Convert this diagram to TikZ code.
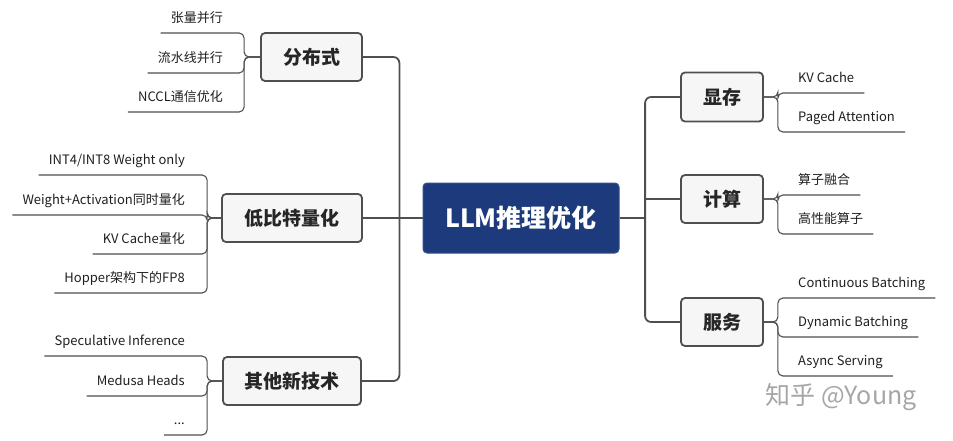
\documentclass[tikz,border=0pt]{standalone}
\usepackage{fontspec}
\setmainfont{Noto Sans CJK SC}
\definecolor{navy}{HTML}{1D3B7C}
\definecolor{navyline}{HTML}{33518F}
\definecolor{linec}{HTML}{4F4F4F}
\definecolor{boxfill}{HTML}{F6F6F6}
\tikzset{
  topicbox/.style={draw=linec, line width=1.8pt, fill=boxfill, rounded corners=4pt,
    font=\fontsize{19}{22}\selectfont\bfseries, text=black!85, inner sep=0pt},
  rootbox/.style={draw=navyline, line width=1pt, fill=navy, rounded corners=4pt,
    font=\fontsize{25}{28}\selectfont\bfseries, text=white, inner sep=0pt,
    minimum width=196pt, minimum height=70pt},
  leaf/.style={font=\fontsize{13}{15}\selectfont, text=black!88, inner xsep=10pt,
    inner ysep=0pt, text height=17pt, text depth=10pt},
  mainconn/.style={draw=linec, line width=1.8pt, rounded corners=6pt},
  leafconn/.style={draw=linec, line width=1.1pt, rounded corners=5pt},
}
\begin{document}
\begin{tikzpicture}[x=1pt,y=-1pt]
\useasboundingbox (0,0) rectangle (953,441);
% root
\node[rootbox] (root) at (521,218) {LLM推理优化};
% left topics
\node[topicbox, minimum width=101pt, minimum height=48pt] (fb) at (311.5,57) {分布式};
\node[topicbox, minimum width=140pt, minimum height=48pt] (lb) at (292,218) {低比特量化};
\node[topicbox, minimum width=138pt, minimum height=48pt] (ob) at (292,381) {其他新技术};
% right topics
\node[topicbox, minimum width=82pt, minimum height=49pt] (xc) at (722,97) {显存};
\node[topicbox, minimum width=82pt, minimum height=48pt] (js) at (722,199) {计算};
\node[topicbox, minimum width=82pt, minimum height=48pt] (fw) at (722,322) {服务};
% main connectors
\draw[mainconn] (fb.east) -- ++(36.5,0) |- (ob.east);
\draw[mainconn] (root.west) -- (lb.east);
\draw[mainconn] (xc.west) -- ++(-35,0) |- (fw.west);
\coordinate (rj) at (646,218);
\draw[mainconn] (root.east) -- (rj);
\draw[mainconn] (js.west) -- ++(-35,0);
% left leaves: group 1
\node[leaf, anchor=south east] (a1) at (233,33) {张量并行};
\node[leaf, anchor=south east] (a2) at (233,73) {流水线并行};
\node[leaf, anchor=south east] (a3) at (233,112) {NCCL通信优化};
\foreach \n in {a1,a2,a3} \draw[leafconn] (fb.west) -- ++(-16,0) |- (\n.south west);
% group 2
\node[leaf, anchor=south east] (b1) at (195,175) {INT4/INT8 Weight only};
\node[leaf, anchor=south east] (b2) at (195,215) {Weight+Activation同时量化};
\node[leaf, anchor=south east] (b3) at (195,254) {KV Cache量化};
\node[leaf, anchor=south east] (b4) at (195,293) {Hopper架构下的FP8};
\foreach \n in {b1,b2,b3,b4} \draw[leafconn] (lb.west) -- ++(-14,0) |- (\n.south west);
% group 3
\node[leaf, anchor=south east] (c1) at (195,356) {Speculative Inference};
\node[leaf, anchor=south east] (c2) at (195,396) {Medusa Heads};
\node[leaf, anchor=south east] (c3) at (195,435) {...};
\foreach \n in {c1,c2,c3} \draw[leafconn] (ob.west) -- ++(-15,0) |- (\n.south west);
% right leaves
\node[leaf, anchor=south west] (d1) at (788,93) {KV Cache};
\node[leaf, anchor=south west] (d2) at (788,132) {Paged Attention};
\foreach \n in {d1,d2} \draw[leafconn] (xc.east) -- ++(14,0) |- (\n.south east);
\node[leaf, anchor=south west] (e1) at (788,195) {算子融合};
\node[leaf, anchor=south west] (e2) at (788,234) {高性能算子};
\foreach \n in {e1,e2} \draw[leafconn] (js.east) -- ++(14,0) |- (\n.south east);
\node[leaf, anchor=south west] (f1) at (788,298) {Continuous Batching};
\node[leaf, anchor=south west] (f2) at (788,337) {Dynamic Batching};
\node[leaf, anchor=south west] (f3) at (788,376) {Async Serving};
\foreach \n in {f1,f2,f3} \draw[leafconn] (fw.east) -- ++(14,0) |- (\n.south east);
% watermark
\node[font=\fontsize{25}{28}\selectfont, text=black!35] (wm) at (841,397) {知乎 @Young};
\end{tikzpicture}
\end{document}
